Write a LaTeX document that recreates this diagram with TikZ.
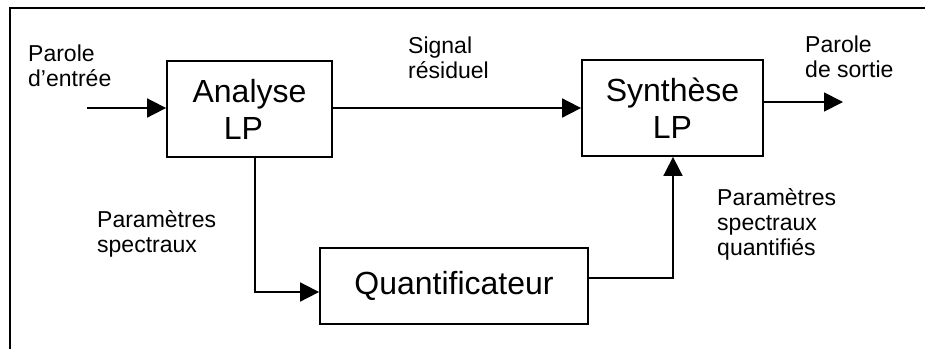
\documentclass[tikz,border=0pt]{standalone}
\usepackage{fontspec}
\setmainfont{Liberation Sans}
\usetikzlibrary{arrows.meta}
\begin{document}
\begin{tikzpicture}[x=1pt,y=-1pt,
  box/.style={draw,line width=1.8pt,inner sep=0pt,align=center,font=\fontsize{32}{37}\selectfont},
  lbl/.style={inner sep=0pt,align=left,anchor=base west,font=\fontsize{23}{25}\selectfont},
  arr/.style={line width=1.8pt,-{Triangle[length=19pt,width=19pt]}},
  wire/.style={line width=1.8pt}]
\useasboundingbox (0,0) rectangle (925,349);
\draw[wire] (10,349) -- (10,8) -- (925,8);
\node[box,minimum width=165pt,minimum height=96pt] (ana) at (249.5,109) {Analyse\\\hspace*{-12pt}LP};
\node[box,minimum width=181pt,minimum height=96pt] (syn) at (672.5,108) {Synthèse\\LP};
\node[box,minimum width=268pt,minimum height=76pt] (q) at (454,286) {Quantificateur};
\coordinate (in) at (87,108);
\coordinate (out) at (843,102);
\coordinate (j1) at (255,292);
\coordinate (j2) at (673,278);
\draw[arr] (in) -- (in -| ana.west);
\draw[arr] (ana.east |- in) -- (in -| syn.west);
\draw[arr] (out -| syn.east) -- (out);
\draw[arr] (ana.south -| j1) -- (j1) -- (j1 -| q.west);
\draw[arr] (j2 -| q.east) -- (j2) -- (j2 |- syn.south);
\node[lbl] (l1) at (28,86) {Parole\\d’entrée};
\node[lbl] (l2) at (408,78) {Signal\\résiduel};
\node[lbl] (l3) at (805,77) {Parole\\de sortie};
\node[lbl] (l4) at (97,252) {Paramètres\\spectraux};
\node[lbl] (l5) at (717,255) {Paramètres\\spectraux\\quantifiés};
\end{tikzpicture}
\end{document}
